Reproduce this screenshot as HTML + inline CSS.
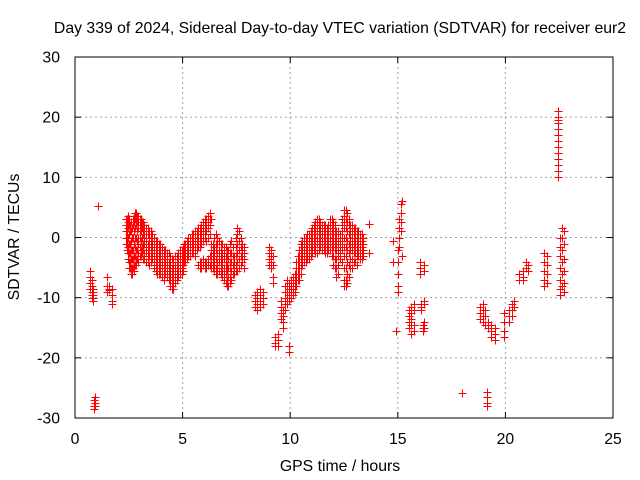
<!DOCTYPE html>
<html><head><meta charset="utf-8"><style>
html,body{margin:0;padding:0;background:#fff;}
svg{display:block;font-family:"Liberation Sans",sans-serif;}
</style></head><body>
<svg id="chart" width="640" height="480" viewBox="0 0 640 480">
<rect x="0" y="0" width="640" height="480" fill="#fff"/>
<text x="340" y="33" font-size="15.8" text-anchor="middle">Day 339 of 2024, Sidereal Day-to-day VTEC variation (SDTVAR) for receiver eur2</text>
<text x="0" y="0" font-size="15.8" text-anchor="middle" transform="translate(19,237) rotate(-90)">SDTVAR / TECUs</text>
<text x="340" y="471" font-size="15.8" text-anchor="middle">GPS time / hours</text>
<g id="grid"></g>
<g id="axes"></g>
<g id="marks"></g>
<rect x="75" y="57" width="538" height="361" fill="none" stroke="#000" stroke-width="1"/>
</svg>
<script>
const xTicks=[0,5,10,15,20,25];
const yTicks=[-30,-20,-10,0,10,20,30];
const redTimes=[0.72,0.78,0.85,0.9,0.95,1.05,1.5,1.6,1.7,2.35,2.45,2.55,2.65,2.75,2.85,2.95,3.05,3.15,3.3,3.45,3.6,3.75,3.9,4.05,4.2,4.35,4.5,4.65,4.8,4.95,5.05,5.2,5.35,5.5,5.65,5.8,5.95,6.1,6.25,6.4,6.55,6.7,6.85,7.0,7.1,7.25,7.4,7.55,7.7,7.85,8.35,8.45,8.6,8.75,9.0,9.1,9.2,9.3,9.45,9.55,9.65,9.75,9.85,9.95,9.95,10.05,10.2,10.35,10.5,10.65,10.8,10.95,11.1,11.25,11.4,11.55,11.7,11.85,12.0,12.15,12.3,12.5,12.65,12.8,12.95,13.1,13.25,13.4,13.65,14.8,14.9,15.0,15.05,15.15,15.2,15.5,15.6,15.75,16.05,16.1,16.15,16.2,18.0,18.8,18.95,19.05,19.15,19.2,19.35,19.5,19.95,20.15,20.3,20.4,20.65,20.8,20.95,21.05,21.8,21.95,22.45,22.55,22.65,22.7];
const redValues=[[-5.5,-6.5,-7.5,-8.5],[-7,-8,-9,-9.5,-10],[-8.5,-9,-9.5,-10,-10.5],[-27,-28,-28.5],[-26.5,-27.5,-28],[5.2],[-6.5,-8,-9],[-8,-8.5,-8.8],[-8.5,-9.5,-10.5,-11],
[3,2,1,0,-1],[3.5,2.5,1.5,0,-1.5,-2.5,-3.5],[2,1,-1,-2.5,-4,-5],[1.5,0,-2,-3.5,-5,-6],[3.5,2.5,1,-1,-3,-4.5,-5.5],[4,3,2,0,-2,-3.5,-4.5],[3.5,2.5,1.5,0,-1,-2.5,-4],[3,2,1,-0.5,-2,-3],[2.5,1.5,0.5,-1,-2,-3.5],[1.5,0.5,-0.5,-1.5,-2.5,-4],[1,0,-1,-2,-3,-4.5],[0.5,-0.5,-1.5,-2.5,-3.5],[-0.5,-1.5,-2.5,-3.5,-4.5,-5.5],[-1,-2,-3,-4,-5,-6],[-1.5,-2.5,-3.5,-4.5,-5.5,-6.5],[-2,-3,-4,-5,-6],[-2.5,-4,-5,-6,-7],[-3.5,-5,-6,-7,-8,-8.5],[-3,-4.5,-5.5,-6.5,-7.5],[-2.5,-3.5,-4.5,-5.5,-6.5],[-2,-3,-4,-5,-6],[-1,-2,-3,-4],[-0.5,-1.5,-2.5,-3.5],[0,-1,-2,-3],[0.5,-0.5,-1.5,-2.5],[1,0,-1,-2],[1.5,0.5,-0.5,-1.5,-4,-5],[2.5,1.5,0.5,-0.5,-3.5,-4.5],[3,2,1,-0.5,-4,-5],[4,3,2,0.5,-3,-4.5],[-1,-2,-3,-4,-5],[0.5,-1,-2,-3.5,-5,-6],[-0.5,-2,-3,-4,-5.5],[-1,-2.5,-3.5,-4.5,-5.5,-6.5],[-1.5,-3,-4,-5,-6,-7.5],[-2,-3.5,-5,-6.5,-8],[-0.5,-2.5,-4,-5.5,-7],[-3,-4,-5,-6],[1.5,0.5,-1,-2.5,-4,-5.5],[0,-1.5,-3,-4.5],[-1.5,-2.5,-3.5,-5],
[-9.5,-10.5,-11.5],[-9,-10,-11,-12],[-8.5,-9.5,-10.5,-11.5],[-9,-10,-11],[-1.5,-2.5,-3.5,-4.5],[-2,-3,-4,-5],[-3,-4.5,-6.5,-7.5],[-16.5,-17.5,-18],[-16,-17,-18],[-10.5,-11.5,-12.5,-13.5],[-12,-13,-14,-15],[-8,-9,-10,-11,-12],[-7,-8,-9,-10,-11],[-18,-19],[-7.5,-8.5,-9.5,-10.5],[-7,-8,-9,-10],[-6,-7,-8,-9],[-3,-4,-5,-6,-7],[-1,-2,-3,-4,-5,-6],[0,-1,-2,-3,-4],[0.5,-0.5,-1.5,-2.5,-3.5],[1,0,-1,-2,-3],[2,1,0,-1,-2],[3,2,1,0,-1,-2.5],[2.5,1.5,0.5,-0.5,-1.5],[2,1,0,-1,-2],[1.5,0.5,-0.5,-1.5,-2.5],[3,2,1,0,-1,-2],[2.5,1.5,0.5,-0.5,-1.5,-3,-4.5],[1,0,-1,-2,-3.5,-5,-6.5],[0.5,-0.5,-1.5,-2.5,-3.5],[4.5,3.5,2.5,1.5,0,-1.5,-3,-5,-7,-8],[4,2.5,1,-0.5,-2,-4,-6,-7.5],[2,1,0,-1,-2,-3.5,-5],[1.5,0.5,-0.5,-1.5,-2.5,-4],[1,0,-1,-2,-3,-4.5],[0.5,-0.5,-1.5,-2.5,-3.5],[0,-1,-2,-3],[2.3,-2.5],
[-0.5,-4],[-15.5],[-2,-4,-6,-8,-9],[3,1.5,0,-1.5],[5.5,4,2.5,1],[6,-3],[-12,-13,-14,-15],[-11.5,-12.5,-13.5,-14.5,-16],[-11,-12,-14.5,-15.5],[-4,-5,-6],[-11,-11.5,-12],[-14.5,-15,-15.5],[-4.5,-5.5,-10.5,-11,-14,-15],
[-25.8],[-11.5,-12.5,-13.5],[-11,-12,-13,-14],[-12,-13,-14.5],[-25.6,-26.5,-27.5,-28],[-15,-14],[-14.5,-15.5,-16.5],[-15,-16,-17],[-12.5,-14,-15.5,-16.5],[-12,-13,-14],[-11,-12,-13],[-10.5,-11.5],[-6,-7],[-5.5,-6.5,-7],[-4,-5],[-4.5,-5.5],[-2.5,-4,-5.5,-7,-8],[-3,-4.5,-6,-7.5],
[10,11,12,13,14,15,16,17,18,19,19.5,20,21],[0,-1.5,-3,-5,-7,-8.5,-9.5],[1.5,0,-2,-4,-6,-8],[1,-1,-3.5,-5.5,-7.5,-9]];
const redTimes2=[2.4,2.5,2.6,2.7,2.8,2.9,3.0,3.1,3.22,3.37,3.52,3.67,3.82,3.97,4.12,4.27,4.42,4.57,4.72,4.87,5.0,5.12,5.27,5.42,5.57,5.72,5.87,6.02,6.17,6.32,6.47,6.62,6.77,6.92,7.05,7.18,7.32,7.47,7.62,7.77,10.12,10.27,10.42,10.57,10.72,10.87,11.02,11.17,11.32,11.47,11.62,11.77,11.92,12.07,12.22,12.4,12.57,12.72,12.87,13.02,13.17,13.32];
const redValues2=[[3,2,1,0,-1,-2],[3,2,0.5,-1,-2.5,-4,-5],[2.5,1,-0.5,-2,-3.5,-5,-6],[3,2,0,-2,-3.5,-5],[4,3,1.5,0,-1.5,-3,-4.5],[3.5,2.5,1,-0.5,-2,-3.5],[3,2,1,0,-1.5,-3],[2.5,1.5,0,-1.5,-2.5],[2,1,0,-1,-2.5,-3.5],[1.5,0.5,-1,-2,-3,-4],[1,0,-1,-2,-3,-4],[0,-1,-2,-3,-4,-5],[-0.5,-1.5,-2.5,-3.5,-4.5,-5.5,-6],[-1,-2,-3,-4,-5,-6],[-2,-3,-4,-5,-6,-7],[-2.5,-3.5,-4.5,-5.5,-6.5],[-3,-4,-5,-6,-7,-8],[-3.5,-4.5,-5.5,-6.5,-7.5,-8.5],[-3,-4,-5,-6,-7],[-2,-3,-4,-5,-6],[-1.5,-2.5,-3.5,-4.5,-5.5],[-1,-2,-3,-4],[0,-1,-2,-3],[0.5,-0.5,-1.5,-2.5],[1,0,-1,-2,-3],[1.5,0.5,-0.5,-1.5,-4.5],[2,1,0,-1,-4,-5],[3,2,1,0,-4,-5],[3.5,2.5,1.5,0,-3.5,-4.5],[3,-1,-2,-3,-4,-5],[0,-1.5,-2.5,-3.5,-4.5,-5.5],[0,-1,-2.5,-4,-5,-6],[-1,-2,-3,-4,-5,-6],[-1.5,-2.5,-3.5,-5,-6,-7],[-2,-3,-4.5,-5.5,-7,-8],[-1,-2.5,-4,-5,-6.5,-7.5],[-1.5,-3,-4.5,-6],[0,-1.5,-3,-4.5,-5.5],[1,-0.5,-2,-3.5,-5],[-1,-2,-3,-4],
[-6.5,-7.5,-8.5,-9.5],[-4,-5,-6,-7,-8],[-2,-3,-4,-5,-6,-7],[-0.5,-1.5,-2.5,-3.5,-4.5],[0,-1,-2,-3,-4],[0.5,-0.5,-1.5,-2.5,-3.5],[1.5,0.5,-0.5,-1.5,-2.5],[2.5,1.5,0.5,-0.5,-1.5,-2.5],[3,2,1,0,-1,-2],[2,1,0,-1,-2],[2,1,0,-1,-2,-2.5],[2,1,0,-1,-2],[3,2,1,0,-1,-2,-3],[2,1,0,-1,-2,-3.5,-5],[1,0,-1,-2,-3,-4.5,-6],[3,2,1,0,-1,-2,-4],[4.5,3,1.5,0,-1.5,-3,-5,-7,-8],[3,2,0.5,-1,-2.5,-4.5,-6.5],[2,1,0,-1,-2,-3.5,-5],[1.5,0.5,-0.5,-1.5,-2.5,-4],[1,0,-1,-2,-3],[0.5,-0.5,-1.5,-2.5,-3.5]];
const blackTimes=[2.55,4.5,7.55,9.45,12.65,15.0,19.05,22.45,20.8,10.35,12.95];
const blackValues=[-2.5,-7,-1,-18,-2,-9,-13,17,-6.5,-4,-1.5];

const X0=75,X1=613,Y0=418,Y1=57;
function xs(t){return X0+(t-0)/(25-0)*(X1-X0);}
function ys(v){return Y0-(v+30)/60*(Y0-Y1);}
const NS='http://www.w3.org/2000/svg';
const grid=document.getElementById('grid'),axes=document.getElementById('axes'),marks=document.getElementById('marks');
function mk(tag,attrs,parent){const e=document.createElementNS(NS,tag);for(const k in attrs)e.setAttribute(k,attrs[k]);parent.appendChild(e);return e;}
xTicks.forEach(t=>{
  const x=xs(t);
  if(t>0&&t<25){const g=mk('line',{x1:x,x2:x,y1:Y1,y2:Y0,stroke:'#a0a0a0','stroke-dasharray':'2,3'},grid);
  
  }
  mk('line',{x1:x,x2:x,y1:Y0,y2:Y0-6,stroke:'#000'},axes);
  mk('line',{x1:x,x2:x,y1:Y1,y2:Y1+6,stroke:'#000'},axes);
  const l=mk('text',{x:x,y:444,'font-size':15.8,'text-anchor':'middle'},axes);
  l.textContent=t;
  
  
});
yTicks.forEach(v=>{
  const y=ys(v);
  if(v>-30&&v<30){const g=mk('line',{x1:X0,x2:X1,y1:y,y2:y,stroke:'#a0a0a0','stroke-dasharray':'2,3'},grid);
  
  }
  mk('line',{x1:X0,x2:X0+6,y1:y,y2:y,stroke:'#000'},axes);
  mk('line',{x1:X1,x2:X1-6,y1:y,y2:y,stroke:'#000'},axes);
  const l=mk('text',{x:60,y:y+5.5,'font-size':15.8,'text-anchor':'end'},axes);
  l.textContent=v;
  
  
});
function plus(t,v,color,name){
  const x=Math.round(xs(t))+0.5,y=Math.round(ys(v))+0.5;
  const p=mk('path',{d:`M${x-4} ${y}H${x+4}M${x} ${y-4}V${y+4}`,stroke:color,'stroke-width':1,fill:'none'},marks);
  
  
}
blackTimes.forEach((t,i)=>plus(t,blackValues[i],'#000','point-black'));
redTimes.forEach((t,i)=>redValues[i].forEach(v=>plus(t,v,'#ff0000','point-red')));
redTimes2.forEach((t,i)=>redValues2[i].forEach(v=>plus(t,v,'#ff0000','point-red')));
</script>
</body></html>
